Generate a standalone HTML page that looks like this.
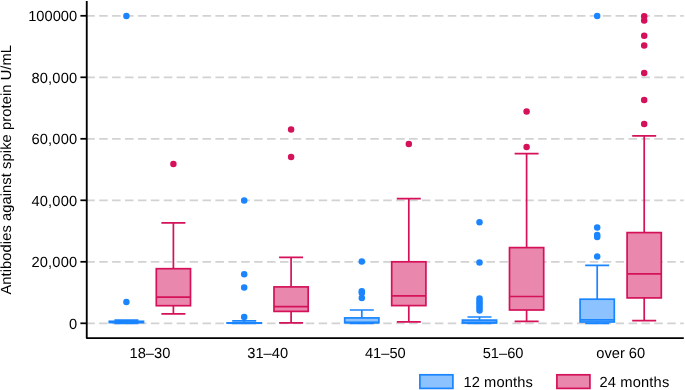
<!DOCTYPE html>
<html lang="en"><head><meta charset="utf-8"><title>Antibodies against spike protein</title>
<style>html,body{margin:0;padding:0;background:#fff;overflow:hidden}body{width:685px;height:390px}svg{will-change:transform}</style>
</head><body>
<svg width="685" height="390" viewBox="0 0 685 390" style="display:block" font-family="'Liberation Sans', Arial, sans-serif" font-size="14.67" fill="#000" text-rendering="geometricPrecision">
<rect width="685" height="390" fill="#fff"/>
<line x1="86.3" x2="683.8" y1="323.40" y2="323.40" stroke="#D2D2D2" stroke-width="1.9" stroke-dasharray="8.5 4.41"/>
<line x1="86.3" x2="683.8" y1="261.90" y2="261.90" stroke="#D2D2D2" stroke-width="1.9" stroke-dasharray="8.5 4.41"/>
<line x1="86.3" x2="683.8" y1="200.40" y2="200.40" stroke="#D2D2D2" stroke-width="1.9" stroke-dasharray="8.5 4.41"/>
<line x1="86.3" x2="683.8" y1="138.90" y2="138.90" stroke="#D2D2D2" stroke-width="1.9" stroke-dasharray="8.5 4.41"/>
<line x1="86.3" x2="683.8" y1="77.40" y2="77.40" stroke="#D2D2D2" stroke-width="1.9" stroke-dasharray="8.5 4.41"/>
<line x1="86.3" x2="683.8" y1="15.90" y2="15.90" stroke="#D2D2D2" stroke-width="1.9" stroke-dasharray="8.5 4.41"/>
<path d="M126.40 320.10V321.30M126.40 322.60V323.30M114.40 320.10H138.40M114.40 323.30H138.40" stroke="#1A85FF" stroke-width="1.7" fill="none"/>
<rect x="109.30" y="321.30" width="34.20" height="1.30" fill="#8CC2FF" stroke="#1A85FF" stroke-width="1.7"/>
<path d="M109.30 322.00H143.50" stroke="#1A85FF" stroke-width="1.7" fill="none"/>
<circle cx="126.40" cy="15.90" r="3.25" fill="#1A85FF"/>
<circle cx="126.40" cy="301.90" r="3.25" fill="#1A85FF"/>
<path d="M173.40 222.80V268.70M173.40 305.70V313.90M161.40 222.80H185.40M161.40 313.90H185.40" stroke="#D41159" stroke-width="1.7" fill="none"/>
<rect x="156.30" y="268.70" width="34.20" height="37.00" fill="#E988AC" stroke="#D41159" stroke-width="1.7"/>
<path d="M156.30 297.20H190.50" stroke="#D41159" stroke-width="1.7" fill="none"/>
<circle cx="173.40" cy="164.00" r="3.25" fill="#D41159"/>
<path d="M244.20 320.80V322.85M244.20 323.05V323.40M232.20 320.80H256.20M232.20 323.40H256.20" stroke="#1A85FF" stroke-width="1.7" fill="none"/>
<rect x="227.10" y="322.85" width="34.20" height="0.20" fill="#8CC2FF" stroke="#1A85FF" stroke-width="1.7"/>
<path d="M227.10 322.95H261.30" stroke="#1A85FF" stroke-width="1.7" fill="none"/>
<circle cx="244.20" cy="200.40" r="3.25" fill="#1A85FF"/>
<circle cx="244.20" cy="274.30" r="3.25" fill="#1A85FF"/>
<circle cx="244.20" cy="287.40" r="3.25" fill="#1A85FF"/>
<circle cx="244.20" cy="316.95" r="3.25" fill="#1A85FF"/>
<path d="M291.10 257.30V286.90M291.10 311.40V322.90M279.10 257.30H303.10M279.10 322.90H303.10" stroke="#D41159" stroke-width="1.7" fill="none"/>
<rect x="274.00" y="286.90" width="34.20" height="24.50" fill="#E988AC" stroke="#D41159" stroke-width="1.7"/>
<path d="M274.00 306.70H308.20" stroke="#D41159" stroke-width="1.7" fill="none"/>
<circle cx="291.10" cy="129.50" r="3.25" fill="#D41159"/>
<circle cx="291.10" cy="157.00" r="3.25" fill="#D41159"/>
<path d="M361.80 310.00V317.90M361.80 322.75V323.40M349.80 310.00H373.80M349.80 323.40H373.80" stroke="#1A85FF" stroke-width="1.7" fill="none"/>
<rect x="344.70" y="317.90" width="34.20" height="4.85" fill="#8CC2FF" stroke="#1A85FF" stroke-width="1.7"/>
<path d="M344.70 322.40H378.90" stroke="#1A85FF" stroke-width="1.7" fill="none"/>
<circle cx="361.80" cy="261.40" r="3.25" fill="#1A85FF"/>
<circle cx="361.80" cy="291.30" r="3.25" fill="#1A85FF"/>
<circle cx="361.80" cy="292.90" r="3.25" fill="#1A85FF"/>
<circle cx="361.80" cy="297.90" r="3.25" fill="#1A85FF"/>
<path d="M408.80 198.70V261.80M408.80 305.60V321.80M396.80 198.70H420.80M396.80 321.80H420.80" stroke="#D41159" stroke-width="1.7" fill="none"/>
<rect x="391.70" y="261.80" width="34.20" height="43.80" fill="#E988AC" stroke="#D41159" stroke-width="1.7"/>
<path d="M391.70 295.90H425.90" stroke="#D41159" stroke-width="1.7" fill="none"/>
<circle cx="408.80" cy="144.00" r="3.25" fill="#D41159"/>
<path d="M479.50 317.00V320.10M479.50 323.00V323.30M467.50 317.00H491.50M467.50 323.30H491.50" stroke="#1A85FF" stroke-width="1.7" fill="none"/>
<rect x="462.40" y="320.10" width="34.20" height="2.90" fill="#8CC2FF" stroke="#1A85FF" stroke-width="1.7"/>
<path d="M462.40 322.40H496.60" stroke="#1A85FF" stroke-width="1.7" fill="none"/>
<circle cx="479.50" cy="222.30" r="3.25" fill="#1A85FF"/>
<circle cx="479.50" cy="262.50" r="3.25" fill="#1A85FF"/>
<circle cx="479.50" cy="298.50" r="3.25" fill="#1A85FF"/>
<circle cx="479.50" cy="300.90" r="3.25" fill="#1A85FF"/>
<circle cx="479.50" cy="303.30" r="3.25" fill="#1A85FF"/>
<circle cx="479.50" cy="305.70" r="3.25" fill="#1A85FF"/>
<circle cx="479.50" cy="308.00" r="3.25" fill="#1A85FF"/>
<circle cx="479.50" cy="310.40" r="3.25" fill="#1A85FF"/>
<path d="M526.60 153.70V247.60M526.60 310.00V321.40M514.60 153.70H538.60M514.60 321.40H538.60" stroke="#D41159" stroke-width="1.7" fill="none"/>
<rect x="509.50" y="247.60" width="34.20" height="62.40" fill="#E988AC" stroke="#D41159" stroke-width="1.7"/>
<path d="M509.50 296.50H543.70" stroke="#D41159" stroke-width="1.7" fill="none"/>
<circle cx="526.60" cy="111.60" r="3.25" fill="#D41159"/>
<circle cx="526.60" cy="147.00" r="3.25" fill="#D41159"/>
<path d="M597.20 265.30V299.20M597.20 322.00V323.30M585.20 265.30H609.20M585.20 323.30H609.20" stroke="#1A85FF" stroke-width="1.7" fill="none"/>
<rect x="580.10" y="299.20" width="34.20" height="22.80" fill="#8CC2FF" stroke="#1A85FF" stroke-width="1.7"/>
<path d="M580.10 319.90H614.30" stroke="#1A85FF" stroke-width="1.7" fill="none"/>
<circle cx="597.20" cy="15.90" r="3.25" fill="#1A85FF"/>
<circle cx="597.20" cy="227.60" r="3.25" fill="#1A85FF"/>
<circle cx="597.20" cy="234.90" r="3.25" fill="#1A85FF"/>
<circle cx="597.20" cy="236.90" r="3.25" fill="#1A85FF"/>
<circle cx="597.20" cy="256.60" r="3.25" fill="#1A85FF"/>
<path d="M644.20 135.90V232.60M644.20 297.90V320.70M632.20 135.90H656.20M632.20 320.70H656.20" stroke="#D41159" stroke-width="1.7" fill="none"/>
<rect x="627.10" y="232.60" width="34.20" height="65.30" fill="#E988AC" stroke="#D41159" stroke-width="1.7"/>
<path d="M627.10 273.80H661.30" stroke="#D41159" stroke-width="1.7" fill="none"/>
<circle cx="644.20" cy="16.30" r="3.25" fill="#D41159"/>
<circle cx="644.20" cy="20.50" r="3.25" fill="#D41159"/>
<circle cx="644.20" cy="35.70" r="3.25" fill="#D41159"/>
<circle cx="644.20" cy="45.40" r="3.25" fill="#D41159"/>
<circle cx="644.20" cy="72.90" r="3.25" fill="#D41159"/>
<circle cx="644.20" cy="100.00" r="3.25" fill="#D41159"/>
<circle cx="644.20" cy="124.00" r="3.25" fill="#D41159"/>
<path d="M86.75 0.9V338.10H683.8" stroke="#000" stroke-width="1.85" stroke-linejoin="round" fill="none"/>
<path d="M80.4 323.30H86.75" stroke="#000" stroke-width="1.75" fill="none"/>
<text transform="translate(77.1 328.85) scale(1.0002)" text-anchor="end">0</text>
<path d="M80.4 261.80H86.75" stroke="#000" stroke-width="1.75" fill="none"/>
<text transform="translate(77.1 267.35) scale(1.0002)" text-anchor="end" textLength="45.6" lengthAdjust="spacing">20,000</text>
<path d="M80.4 200.30H86.75" stroke="#000" stroke-width="1.75" fill="none"/>
<text transform="translate(77.1 205.85) scale(1.0002)" text-anchor="end" textLength="45.6" lengthAdjust="spacing">40,000</text>
<path d="M80.4 138.80H86.75" stroke="#000" stroke-width="1.75" fill="none"/>
<text transform="translate(77.1 144.35) scale(1.0002)" text-anchor="end" textLength="45.6" lengthAdjust="spacing">60,000</text>
<path d="M80.4 77.30H86.75" stroke="#000" stroke-width="1.75" fill="none"/>
<text transform="translate(77.1 82.85) scale(1.0002)" text-anchor="end" textLength="45.6" lengthAdjust="spacing">80,000</text>
<path d="M80.4 15.80H86.75" stroke="#000" stroke-width="1.75" fill="none"/>
<text transform="translate(77.1 21.35) scale(1.0002)" text-anchor="end">100000</text>
<text transform="translate(149.90 357.9) scale(1.0002)" text-anchor="middle">18–30</text>
<text transform="translate(267.65 357.9) scale(1.0002)" text-anchor="middle">31–40</text>
<text transform="translate(385.30 357.9) scale(1.0002)" text-anchor="middle">41–50</text>
<text transform="translate(503.05 357.9) scale(1.0002)" text-anchor="middle">51–60</text>
<text transform="translate(620.70 357.9) scale(1.0002)" text-anchor="middle">over 60</text>
<text transform="translate(11.1 169.8) rotate(-90)" text-anchor="middle" textLength="249.6" lengthAdjust="spacing">Antibodies against spike protein U/mL</text>
<rect x="419.9" y="374.8" width="33" height="13.6" fill="#8CC2FF" stroke="#1A85FF" stroke-width="1.7"/>
<text transform="translate(463.4 386.8) scale(1.0002)" textLength="69.4" lengthAdjust="spacing">12 months</text>
<rect x="556.9" y="374.8" width="33" height="13.6" fill="#E988AC" stroke="#D41159" stroke-width="1.7"/>
<text transform="translate(599.4 386.8) scale(1.0002)" textLength="69.8" lengthAdjust="spacing">24 months</text>
</svg>
</body></html>
